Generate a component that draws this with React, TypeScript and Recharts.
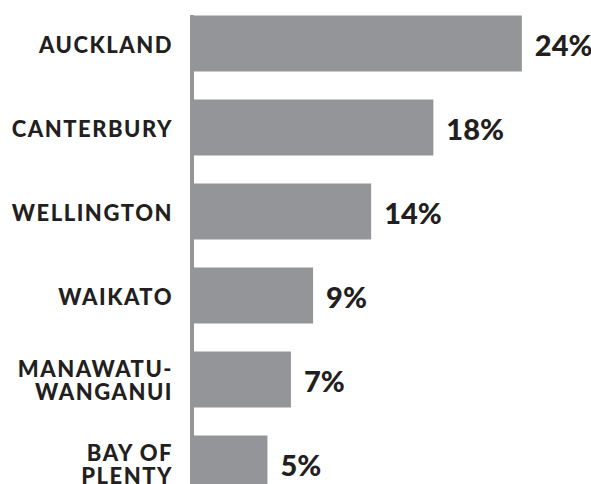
import { Bar, BarChart, LabelList, XAxis, YAxis } from 'recharts';

const regions = ['AUCKLAND', 'CANTERBURY', 'WELLINGTON', 'WAIKATO', 'MANAWATU-\nWANGANUI', 'BAY OF\nPLENTY'];
const shares = [24, 17.6, 13.1, 8.9, 7.3, 5.6];
const shareLabels = ['24%', '18%', '14%', '9%', '7%', '5%'];

const data = regions.map((region, i) => ({
  region,
  share: shares[i],
  label: shareLabels[i],
}));

const FONT = 'Lato, "Open Sans", sans-serif';
const INK = '#231f20';
const GREY = '#939598';

function RegionTick(props: any) {
  const { x, y, payload } = props;
  const lines = String(payload.value).split('\n');
  const lineHeight = 23.5;
  const first = -((lines.length - 1) * lineHeight) / 2;
  return (
    <text
      x={x}
      y={y}
      textAnchor="end"
      fill={INK}
      fontFamily={FONT}
      fontWeight={900}
      fontSize={22}
      letterSpacing={1.5}
    >
      {lines.map((line, i) => (
        <tspan key={i} x={x} dy={i === 0 ? first + 9 : lineHeight}>
          {line}
        </tspan>
      ))}
    </text>
  );
}

function ShareLabel(props: any) {
  const { x, y, width, height, value } = props;
  return (
    <text
      x={x + width + 13}
      y={y + height / 2 + 12}
      fill={INK}
      fontFamily={FONT}
      fontWeight={900}
      fontSize={29}
    >
      {value}
    </text>
  );
}

export default function App() {
  return (
    <div style={{ position: 'absolute', top: 0, left: 0, width: 591, height: 484, overflow: 'hidden', background: '#fff' }}>
      <BarChart
        width={591}
        height={505.5}
        data={data}
        layout="vertical"
        margin={{ top: 1.5, right: 0, bottom: 0, left: 0 }}
      >
        <XAxis type="number" domain={[0, 29]} hide />
        <YAxis
          type="category"
          dataKey="region"
          width={190}
          tickLine={false}
          tickSize={0}
          tickMargin={17}
          tick={<RegionTick />}
          axisLine={{ stroke: GREY, strokeWidth: 4, strokeDasharray: '0 13.5 2000', transform: 'translate(2,0)' }}
        />
        <Bar dataKey="share" fill={GREY} barSize={56} isAnimationActive={false}>
          <LabelList dataKey="label" content={<ShareLabel />} />
        </Bar>
      </BarChart>
    </div>
  );
}
